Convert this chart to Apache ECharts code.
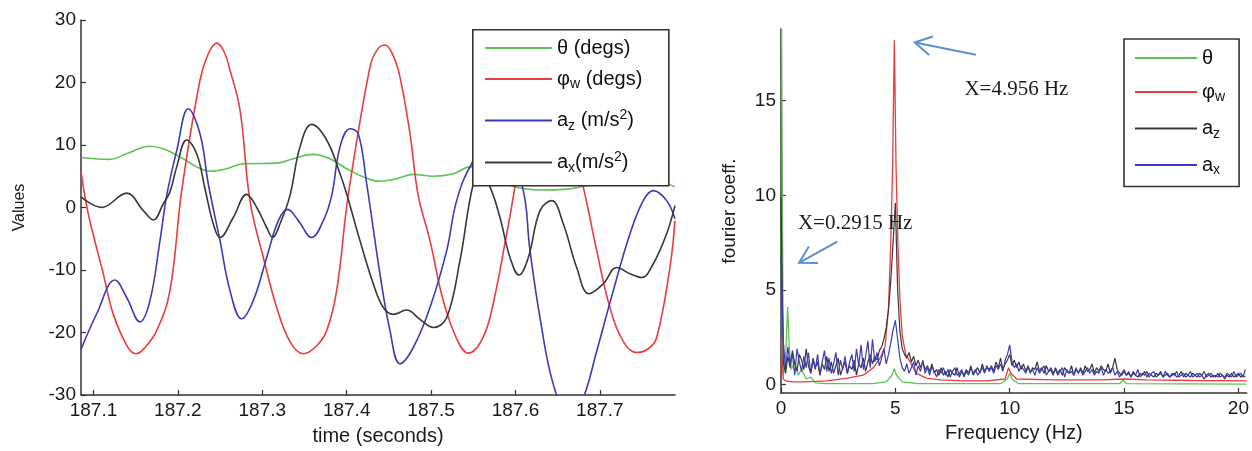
<!DOCTYPE html>
<html><head><meta charset="utf-8">
<script src="https://cdn.jsdelivr.net/npm/echarts@6/dist/echarts.min.js"></script>
<style>html,body{margin:0;padding:0;background:#fff}#c{width:1252px;height:451px}</style>
</head><body><div id="c"></div>
<script>
// ---------- Left panel: time series ----------
const timeTicks = [187.1, 187.2, 187.3, 187.4, 187.5, 187.6, 187.7];
const valueTicks = [-30, -20, -10, 0, 10, 20, 30];

const thetaTime = [187.0852,187.1195,187.1393,187.1669,187.1827,187.2025,187.2223,187.238,187.2578,187.2775,187.3171,187.3367,187.3604,187.3802,187.3999,187.4197,187.4394,187.4592,187.4789,187.5026,187.5263,187.5461,187.5698,187.597,187.629,187.6586,187.6803,187.7119,187.7475,187.7795,187.7889];
const thetaVals = [8.0,7.7,8.6,9.8,9.4,8.1,6.5,5.8,6.2,7.0,7.1,7.8,8.5,7.8,6.2,4.9,4.2,4.6,5.3,5.0,5.4,6.5,5.0,3.4,2.8,2.9,3.4,4.2,4.5,3.8,3.3];

const phiTime = [187.0852,187.0938,187.1116,187.1235,187.1404,187.1504,187.1604,187.1749,187.1906,187.2045,187.2262,187.236,187.246,187.2545,187.2617,187.2736,187.2854,187.3012,187.3171,187.333,187.3486,187.364,187.3763,187.3881,187.4019,187.4276,187.4365,187.4454,187.4545,187.4631,187.475,187.4848,187.4987,187.5144,187.531,187.5441,187.5575,187.5698,187.5896,187.5994,187.6172,187.6265,187.6358,187.645,187.654,187.6803,187.6962,187.7119,187.728,187.7436,187.7573,187.7673,187.783,187.7889];
const phiVals = [5.7,-1.0,-10.6,-17.1,-22.3,-23.4,-22.5,-19.7,-13.3,2.7,20.4,24.6,26.3,25.0,22.0,15.6,1.1,-8.0,-16.0,-21.5,-23.4,-22.2,-19.7,-13.3,2.0,22.5,25.3,26.0,24.5,20.9,11.8,1.9,-5.3,-14.9,-21.2,-23.3,-21.8,-17.6,-4.2,3.3,17.5,23.5,26.0,23.5,17.5,3.3,-6.9,-16.0,-21.5,-23.2,-22.6,-20.8,-9.6,-2.1];

const azTime = [187.0852,187.1038,187.1255,187.1393,187.1551,187.1669,187.1788,187.1867,187.1986,187.2123,187.2262,187.236,187.2499,187.2617,187.2756,187.2893,187.3052,187.319,187.3301,187.3427,187.3585,187.3723,187.3822,187.3921,187.4039,187.4137,187.4237,187.4394,187.4513,187.4631,187.4789,187.4987,187.5185,187.5303,187.5481,187.5781,187.6073,187.6172,187.629,187.6448,187.6646,187.6803,187.6962,187.7159,187.7357,187.7514,187.7633,187.7791,187.7889];
const azVals = [-22.7,-17.0,-11.6,-14.4,-18.3,-14.9,-5.3,1.9,9.1,15.8,11.8,3.8,-5.3,-13.3,-17.8,-14.9,-8.0,-2.1,-0.3,-2.1,-4.8,-2.1,1.9,9.7,12.6,11.8,3.8,-10.6,-19.7,-25.0,-22.4,-16.0,-6.9,1.1,7.0,12.0,3.8,-6.9,-17.6,-28.3,-34.0,-30.5,-23.0,-13.3,-4.2,1.1,2.7,1.1,-1.8];

const axTime = [187.0852,187.1097,187.1393,187.159,187.1709,187.1827,187.1906,187.1986,187.2104,187.2223,187.2321,187.2419,187.2499,187.2656,187.2815,187.2934,187.3052,187.3123,187.321,187.3328,187.3447,187.3585,187.3763,187.3921,187.3999,187.4157,187.4315,187.4434,187.4552,187.4711,187.4868,187.5026,187.5185,187.5342,187.55,187.5591,187.5698,187.5816,187.5935,187.6041,187.6152,187.629,187.6429,187.6566,187.6725,187.6871,187.704,187.7199,187.7357,187.7495,187.7633,187.7791,187.7889];
const axVals = [1.7,0.0,2.3,-0.5,-2.0,0.6,2.5,6.5,10.8,8.6,3.0,-2.6,-4.8,-1.6,2.1,0.0,-3.2,-4.8,-2.6,1.9,9.7,13.3,10.8,5.4,2.2,-5.3,-12.2,-16.0,-17.1,-16.4,-17.9,-19.2,-17.6,-8.5,3.8,5.5,3.3,-1.6,-8.0,-10.8,-8.0,-0.5,1.1,-2.6,-9.6,-13.8,-12.2,-9.6,-10.6,-11.2,-9.0,-4.2,0.3];

// ---------- Right panel: spectrum ----------
const freqTicks = [0, 5, 10, 15, 20];
const coeffTicks = [0, 5, 10, 15];
const freqStep = 0.1;   // bin spacing of the two noisy spectra

const specThetaF = [0,0.1,0.2,0.29,0.36,0.45,0.6,0.75,0.9,1.1,1.3,1.5,2,4,4.6,4.85,4.956,5.05,5.3,6,9.6,9.9,10.0,10.1,10.4,14.8,14.95,15.1,20.36];
const specThetaV = [25,0.5,1.5,4.1,2.0,0.8,1.2,0.5,0.8,0.3,0.4,0.1,0.05,0.05,0.15,0.5,0.85,0.5,0.15,0.05,0.05,0.3,0.6,0.3,0.05,0.05,0.25,0.05,0.03];

const specPhiF = [0,0.1,0.2,0.5,1,2,2.9,3.6,4.04,4.33,4.55,4.7,4.8,4.88,4.956,5.03,5.11,5.2,5.3,5.45,5.6,5.92,6.35,7,8,9,9.8,9.95,10.05,10.3,12,14,15,16,18,20.36];
const specPhiV = [2.5,0.3,0.2,0.15,0.15,0.2,0.35,0.5,0.9,1.4,2.0,4.0,7.5,11.5,18.2,11.5,7.5,4.5,2.6,1.6,1.3,0.6,0.35,0.25,0.2,0.2,0.3,0.9,0.6,0.3,0.25,0.25,0.3,0.25,0.22,0.2];

const specAz = [9.9,
1.2,0.6,1.5,0.9,1.8,1.1,0.7,1.6,1.3,0.8,
1.9,1.0,0.6,1.4,0.9,1.2,0.5,1.1,0.8,1.5,
0.7,1.2,0.6,1.0,1.4,0.5,0.9,1.2,0.6,1.0,
0.8,1.3,0.5,1.1,0.9,1.4,0.7,1.2,1.6,1.1,
1.5,1.3,1.8,2.0,2.4,3.0,4.0,5.5,7.5,9.6,
5.0,2.8,1.9,1.6,1.4,1.7,1.2,1.5,1.0,1.3,
0.9,1.2,0.8,1.0,0.7,1.1,0.6,0.8,0.5,0.9,
0.5,0.7,0.4,0.8,0.6,0.5,0.9,0.4,0.7,0.5,
0.8,0.6,1.0,0.5,0.7,0.9,0.6,1.1,0.7,0.9,
0.8,1.0,0.7,1.2,0.9,1.4,0.8,1.1,1.3,1.6,
1.0,1.3,0.9,1.2,0.8,1.1,0.7,1.0,0.6,0.9,
0.8,1.2,0.7,0.9,0.6,1.0,0.7,0.8,0.5,0.9,
0.6,0.8,0.5,0.9,0.7,0.6,1.0,0.5,0.8,0.6,
0.9,0.6,1.0,0.7,0.8,1.1,0.6,0.9,0.7,1.0,
0.8,0.7,1.1,0.6,0.9,1.4,0.8,0.6,0.5,0.7,
0.5,0.6,0.4,0.7,0.5,0.4,0.6,0.5,0.7,0.4,
0.6,0.5,0.4,0.6,0.5,0.7,0.4,0.5,0.6,0.4,
0.5,0.6,0.4,0.5,0.7,0.4,0.6,0.5,0.4,0.6,
0.5,0.4,0.6,0.5,0.3,0.5,0.6,0.4,0.5,0.4,
0.6,0.4,0.5,0.3,0.5,0.4,0.6,0.4,0.5,0.6,
0.4,0.5,0.4];

const specAx = [6.8,
2.3,0.8,2.0,1.1,1.6,0.5,1.9,1.2,0.7,1.5,
0.9,1.7,0.6,1.3,0.8,1.6,0.5,1.2,1.8,0.7,
1.4,0.6,1.1,1.7,0.5,1.3,0.8,1.5,0.6,1.2,
1.6,0.7,1.9,1.0,2.1,0.8,1.5,2.3,0.9,2.4,
1.2,1.7,1.0,1.4,1.9,1.1,1.6,2.2,2.9,3.4,
2.4,1.4,0.9,0.7,1.1,0.6,0.9,1.2,0.5,1.0,
0.7,1.3,0.6,0.9,0.5,1.0,0.7,0.4,0.8,0.6,
0.9,0.5,0.8,0.4,0.7,0.9,0.5,0.6,0.8,0.4,
0.7,0.5,0.9,0.6,0.8,0.5,0.7,0.9,0.6,1.0,
0.7,0.9,0.6,1.0,0.8,1.1,0.7,1.3,1.6,2.1,
1.2,0.9,1.1,0.7,1.0,0.8,0.6,0.9,0.7,0.8,
0.5,0.9,0.6,0.8,1.0,0.5,0.7,0.9,0.6,0.8,
0.5,0.7,0.9,0.4,0.8,0.6,0.7,0.5,0.9,0.6,
0.8,0.5,0.7,0.9,0.6,0.8,0.5,0.7,0.6,0.9,
0.5,0.8,0.6,0.7,0.9,0.5,0.7,0.4,0.6,0.8,
0.5,0.7,0.4,0.6,0.5,0.8,0.4,0.6,0.5,0.7,
0.4,0.6,0.7,0.4,0.5,0.6,0.4,0.7,0.5,0.4,
0.6,0.5,0.7,0.4,0.5,0.6,0.4,0.5,0.7,0.4,
0.5,0.6,0.4,0.5,0.7,0.4,0.5,0.6,0.4,0.5,
0.4,0.6,0.5,0.4,0.6,0.5,0.4,0.7,0.4,0.5,
0.6,0.4,0.8];

// annotations (data coordinates of the right panel)
const arrowTails = [[8.52, 17.43], [2.46, 7.56]];
const arrowHeads = [[5.85, 18.08], [0.79, 6.44]];
const noteTexts = ['X=4.956 Hz', 'X=0.2915 Hz'];
const notePos = [[8.02, 15.58], [0.74, 8.54]];

// ---------- build ----------
const zip = (a, b) => a.map((x, i) => [x, b[i]]);
const onGrid = v => v.map((y, i) => [+(i * freqStep).toFixed(2), y]);

const C = {green: '#5cc354', red: '#ee3b3b', blue: '#3b3bb5', black: '#383838'};
const SANS = 'Liberation Sans';
const axisCol = '#333';

const leftNames = ['θ (degs)', 'φw (degs)', 'az (m/s2)', 'ax(m/s2)'];
const rightNames = ['θ', 'φw', 'az', 'ax'];
const richFmt = {
  'θ (degs)': 'θ (degs)',
  'φw (degs)': 'φ{sub|w} (degs)',
  'az (m/s2)': 'a{sub|z} (m/s{sup|2})',
  'ax(m/s2)': 'a{sub|x}(m/s{sup|2})',
  'θ': 'θ', 'φw': 'φ{sub|w}', 'az': 'a{sub|z}', 'ax': 'a{sub|x}'
};
const rich = {
  sub: {fontSize: 14, fontFamily: SANS, color: '#111', padding: [11, 0, 0, 0]},
  sup: {fontSize: 14, fontFamily: SANS, color: '#111', padding: [0, 0, 11, 0]}
};
// layout of the left legend box: one legend per entry inside a framed box
const leftLegendTops = [38, 69, 108, 150];

function xAxisCfg(grid, min, max, ticks, name, nameGap, fmt) {
  return {
    type: 'value', gridIndex: grid, min: min, max: max,
    axisLine: {show: true, onZero: false, lineStyle: {color: axisCol, width: 1.5}},
    axisTick: {show: true, inside: true, length: 5, customValues: ticks, lineStyle: {color: axisCol, width: 1.2}},
    axisLabel: {customValues: ticks, formatter: fmt, margin: 6, fontSize: 19, fontFamily: SANS, color: '#1a1a1a'},
    splitLine: {show: false},
    name: name, nameLocation: 'middle', nameGap: nameGap,
    nameTextStyle: {fontSize: 20, fontFamily: SANS, color: '#1a1a1a'}
  };
}
function yAxisCfg(grid, min, max, ticks, name, nameGap, nameSize) {
  return {
    type: 'value', gridIndex: grid, min: min, max: max,
    axisLine: {show: true, onZero: false, lineStyle: {color: axisCol, width: 1.5}},
    axisTick: {show: true, inside: true, length: 5, customValues: ticks, lineStyle: {color: axisCol, width: 1.2}},
    axisLabel: {customValues: ticks, margin: 5, fontSize: 19, fontFamily: SANS, color: '#1a1a1a'},
    splitLine: {show: false},
    name: name, nameLocation: 'middle', nameGap: nameGap,
    nameTextStyle: {fontSize: nameSize, fontFamily: SANS, color: '#1a1a1a'}
  };
}
function lineSeries(name, data, color, xi, width, smooth) {
  return {
    type: 'line', name: name, xAxisIndex: xi, yAxisIndex: xi, data: data,
    showSymbol: false, symbol: 'none', smooth: smooth, animation: false,
    lineStyle: {color: color, width: width}, itemStyle: {color: color}, clip: true
  };
}

const leftLegends = leftNames.map((n, i) => ({
  orient: 'vertical', left: 485, top: leftLegendTops[i], data: [n], selectedMode: false,
  icon: 'rect', itemWidth: 67, itemHeight: 2, padding: 0, z: 5,
  formatter: nm => richFmt[nm],
  textStyle: {fontSize: 20, fontFamily: SANS, color: '#111', rich: rich}
}));

const chart = echarts.init(document.getElementById('c'), null, {renderer: 'canvas'});
chart.setOption({
  backgroundColor: '#fff',
  animation: false,
  grid: [
    {left: 81, right: 577, top: 20, bottom: 56},
    {left: 781, right: 2, top: 29, bottom: 58}
  ],
  xAxis: [
    xAxisCfg(0, 187.0852, 187.789, timeTicks, 'time (seconds)', 31, v => v.toFixed(1)),
    xAxisCfg(1, 0, 20.36, freqTicks, 'Frequency (Hz)', 30, v => String(v))
  ],
  yAxis: [
    yAxisCfg(0, -30, 30, valueTicks, 'Values', 53, 16),
    yAxisCfg(1, -0.44, 18.79, coeffTicks, 'fourier coeff.', 42, 19)
  ],
  legend: leftLegends.concat([
    {
      orient: 'vertical', left: 1124, top: 39, data: rightNames, selectedMode: false,
      icon: 'rect', itemWidth: 62, itemHeight: 2, itemGap: 14,
      padding: [9, 14, 9, 11], backgroundColor: '#fff', borderColor: '#333', borderWidth: 1.6,
      formatter: n => richFmt[n],
      textStyle: {fontSize: 20, fontFamily: SANS, color: '#111', rich: rich}
    }
  ]),
  series: [
    lineSeries('θ (degs)', zip(thetaTime, thetaVals), C.green, 0, 1.6, 0.4),
    lineSeries('φw (degs)', zip(phiTime, phiVals), C.red, 0, 1.6, 0.4),
    lineSeries('az (m/s2)', zip(azTime, azVals), C.blue, 0, 1.6, 0.4),
    lineSeries('ax(m/s2)', zip(axTime, axVals), C.black, 0, 1.6, 0.4),
    lineSeries('θ', zip(specThetaF, specThetaV), C.green, 1, 1.3, false),
    lineSeries('φw', zip(specPhiF, specPhiV), C.red, 1, 1.3, false),
    lineSeries('az', onGrid(specAz), C.black, 1, 1.2, false),
    lineSeries('ax', onGrid(specAx), C.blue, 1, 1.2, false)
  ]
});

// legend frame for the left panel + annotations placed from data coordinates
const pix = p => chart.convertToPixel({gridIndex: 1}, p);
const arrowStyle = {stroke: '#5b8fd3', lineWidth: 2, fill: null};
const g = [{
  type: 'rect', z: 4, left: 472, top: 29,
  shape: {width: 196, height: 156},
  style: {fill: '#fff', stroke: '#333', lineWidth: 1.6}
}];
arrowTails.forEach((tl, i) => {
  const t = pix(tl), h = pix(arrowHeads[i]);
  const ang = Math.atan2(t[1] - h[1], t[0] - h[0]);
  const L = 19, da = 0.52;
  const w1 = [h[0] + L * Math.cos(ang - da), h[1] + L * Math.sin(ang - da)];
  const w2 = [h[0] + L * Math.cos(ang + da), h[1] + L * Math.sin(ang + da)];
  g.push({type: 'polyline', z: 10, shape: {points: [t, h]}, style: arrowStyle});
  g.push({type: 'polyline', z: 10, shape: {points: [w1, h, w2]}, style: arrowStyle});
});
noteTexts.forEach((txt, i) => {
  const p = pix(notePos[i]);
  g.push({type: 'text', z: 10, x: p[0], y: p[1],
    style: {text: txt, fontSize: 21, fontFamily: 'Liberation Serif', fill: '#1a1a1a', align: 'left', verticalAlign: 'middle'}});
});
chart.setOption({graphic: g});
</script>
</body></html>
